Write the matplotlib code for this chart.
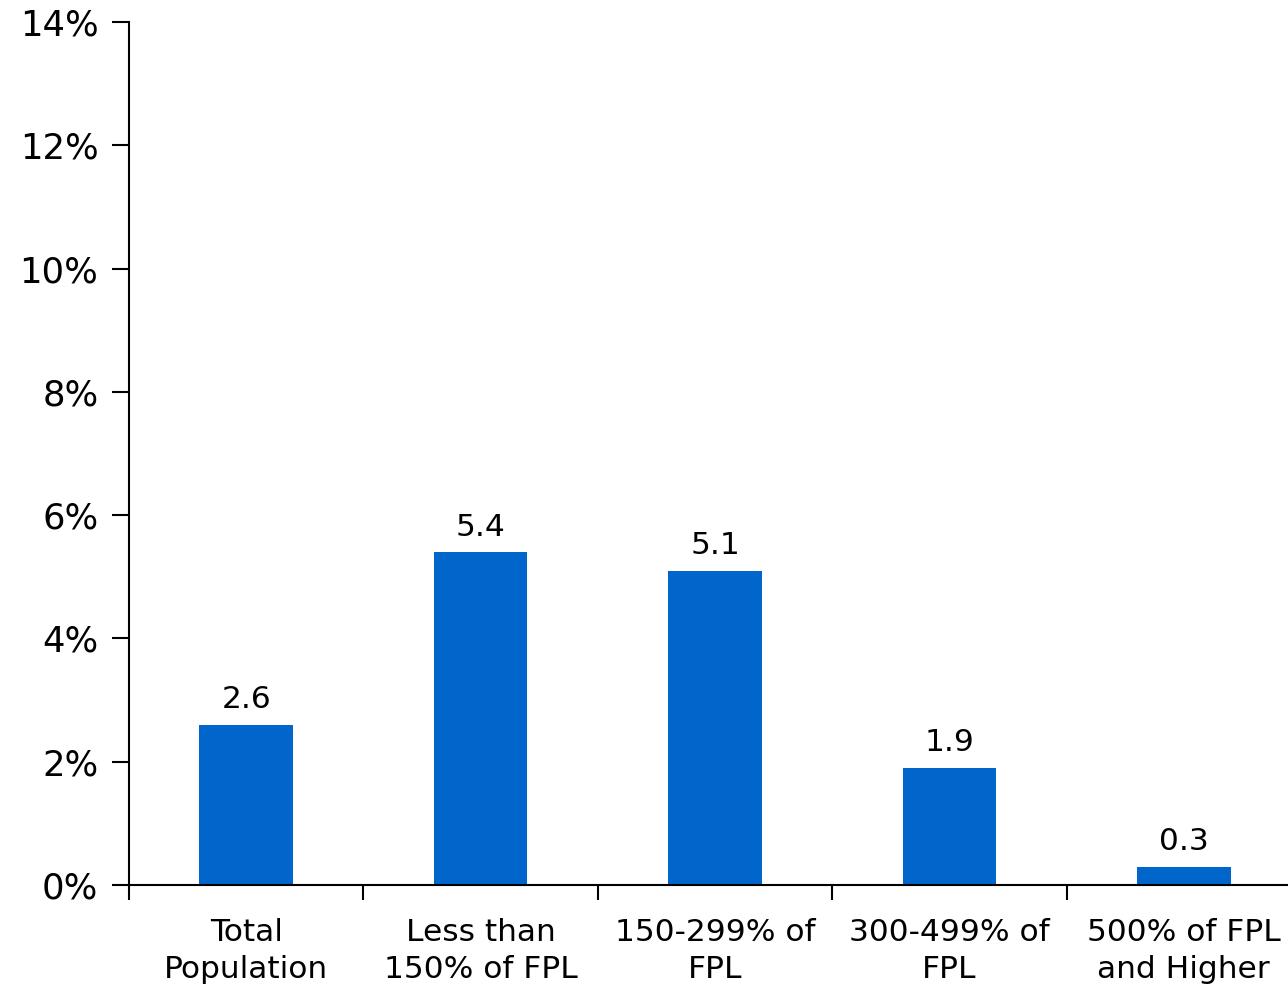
import matplotlib.pyplot as plt
import numpy as np

# categories and values (percent)
categories = ["Total\nPopulation", "Less than\n150% of FPL", "150-299% of\nFPL",
              "300-499% of\nFPL", "500% of FPL\nand Higher"]
values = [2.6, 5.4, 5.1, 1.9, 0.3]
y_ticks = [0, 2, 4, 6, 8, 10, 12, 14]

plt.rcParams['font.family'] = ['DejaVu Sans']

fig = plt.figure(figsize=(12.88, 9.88), dpi=100)
ax = fig.add_axes([129 / 1288, 1 - 885 / 988, 1172 / 1288, 863 / 988])

x = np.arange(len(values))
ax.bar(x, values, width=0.4, color="#0066CC")

for xi, v in zip(x, values):
    ax.text(xi, v + 0.17, f"{v:.1f}", ha="center", va="bottom", fontsize=22.5)

ax.set_xlim(-0.5, len(values) - 0.5)
ax.set_ylim(0, 14)
ax.set_yticks(y_ticks)
ax.set_yticklabels([f"{t}%" for t in y_ticks], fontsize=25.5)

# category labels centered, ticks at the boundaries
ax.set_xticks(x)
ax.set_xticklabels(categories, fontsize=22.5, linespacing=1.35)
ax.tick_params(axis="x", which="major", length=0, pad=24)
ax.set_xticks(np.arange(len(values)) - 0.5, minor=True)
ax.tick_params(axis="x", which="minor", length=11, width=1.5, direction="out")
ax.tick_params(axis="y", length=12, width=1.5, direction="out", pad=10)

for side in ["top", "right"]:
    ax.spines[side].set_visible(False)
for side in ["left", "bottom"]:
    ax.spines[side].set_linewidth(1.5)

fig.savefig("out.png", dpi=100)
